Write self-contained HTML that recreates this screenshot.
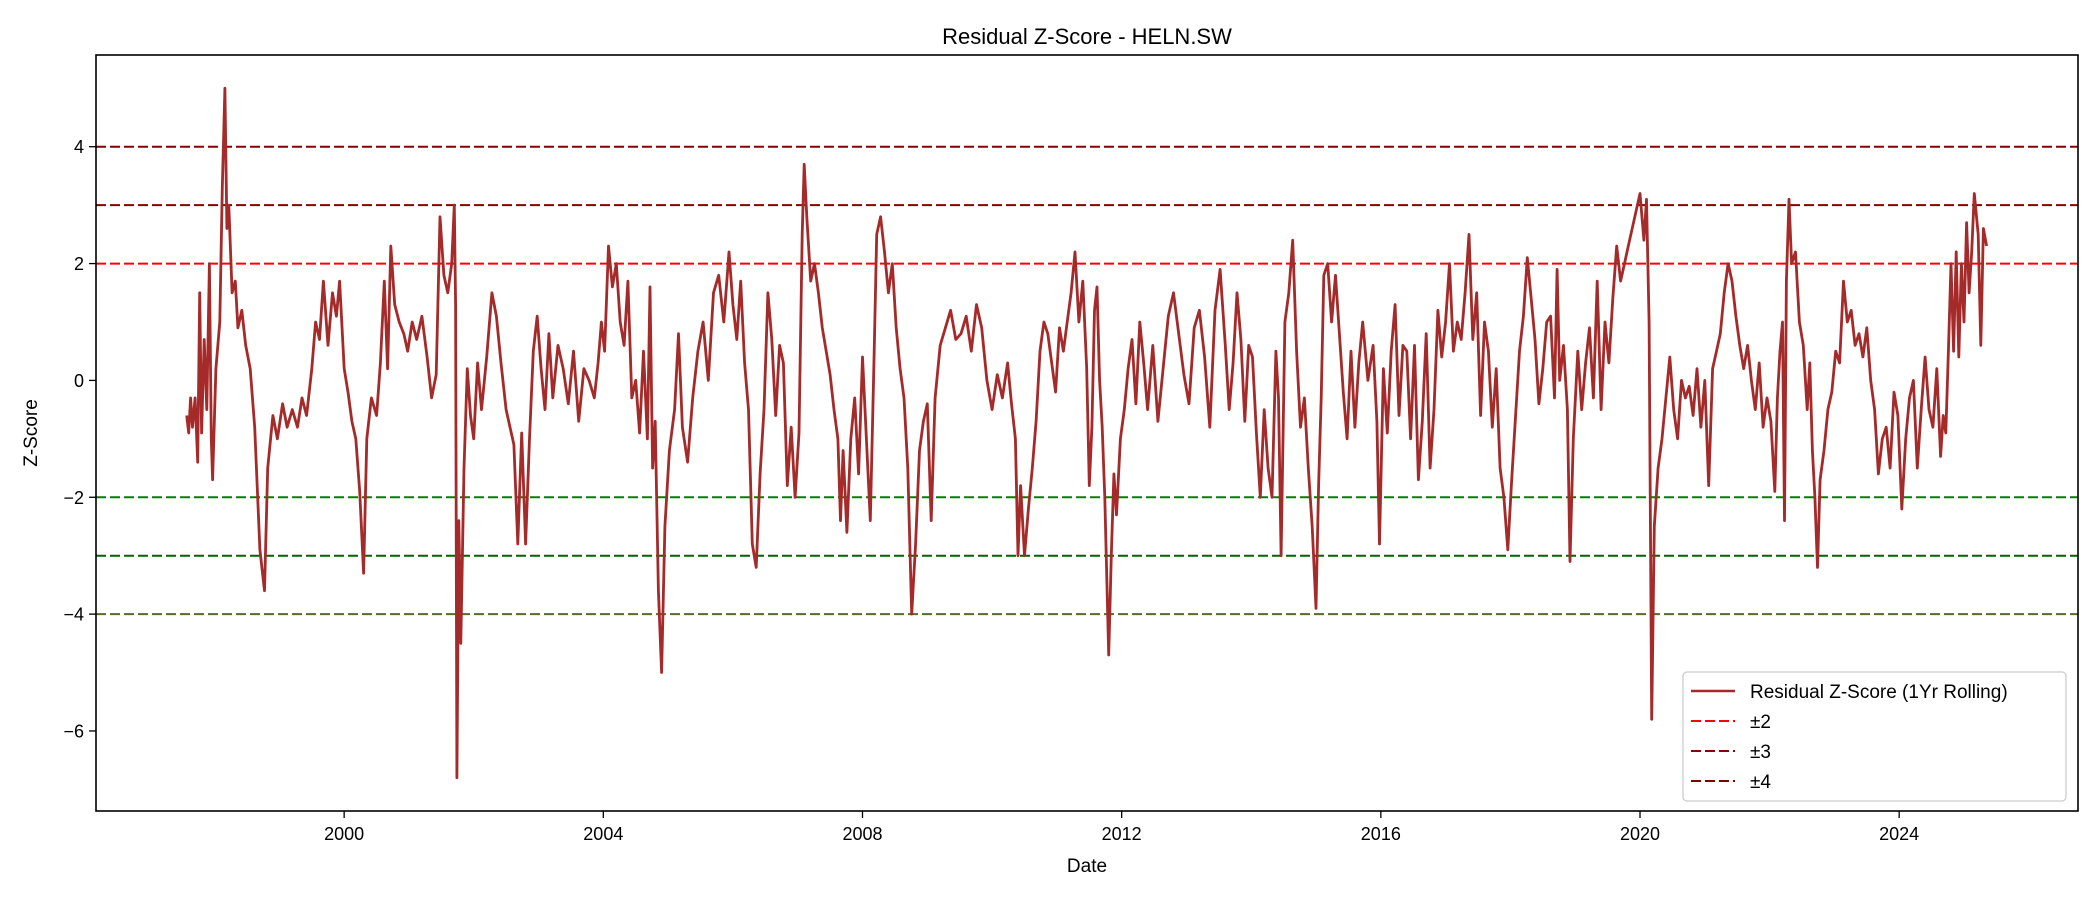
<!DOCTYPE html>
<html><head><meta charset="utf-8"><style>
html,body{margin:0;padding:0;background:#fff;}
svg{display:block;font-family:"Liberation Sans","DejaVu Sans",sans-serif;}
</style></head><body>
<svg id="chart" width="2100" height="900" viewBox="0 0 2100 900" xmlns="http://www.w3.org/2000/svg">
<rect x="0" y="0" width="2100" height="900" fill="#fff"/>
<text x="1087" y="44" font-size="22" text-anchor="middle" fill="#000">Residual Z-Score - HELN.SW</text>
<text x="1087" y="872" font-size="19" text-anchor="middle" fill="#000">Date</text>
<text x="0" y="0" font-size="19" text-anchor="middle" fill="#000" transform="translate(37,433) rotate(-90)">Z-Score</text>
<g id="thresholds"></g>
<g id="series"></g>
<g id="xticks"></g>
<g id="yticks"></g>
<rect x="96" y="55" width="1982" height="756" fill="none" stroke="#000" stroke-width="1.6"/>
<g>
<rect x="1683" y="672" width="383" height="129" rx="4" fill="#fff" fill-opacity="0.8" stroke="#ccc" stroke-width="1.3"/>
<line x1="1691" y1="691" x2="1735" y2="691" stroke="#A52A2A" stroke-width="2.5"/>
<text x="1750" y="698" font-size="19">Residual Z-Score (1Yr Rolling)</text>
<line x1="1691" y1="721" x2="1735" y2="721" stroke="#ff0000" stroke-width="2" stroke-dasharray="10,4"/>
<text x="1750" y="728" font-size="19">±2</text>
<line x1="1691" y1="751" x2="1735" y2="751" stroke="#8B0000" stroke-width="2" stroke-dasharray="10,4"/>
<text x="1750" y="758" font-size="19">±3</text>
<line x1="1691" y1="781" x2="1735" y2="781" stroke="#800000" stroke-width="2" stroke-dasharray="10,4"/>
<text x="1750" y="788" font-size="19">±4</text>
</g>
</svg>
<script>
const dates = [1997.57,1997.60,1997.63,1997.66,1997.70,1997.74,1997.77,1997.80,1997.84,1997.88,1997.92,1997.95,1997.97,1998.02,1998.08,1998.12,1998.16,1998.19,1998.22,1998.27,1998.32,1998.36,1998.42,1998.48,1998.55,1998.62,1998.70,1998.77,1998.82,1998.90,1998.97,1999.05,1999.12,1999.20,1999.28,1999.35,1999.42,1999.50,1999.56,1999.62,1999.68,1999.75,1999.82,1999.88,1999.93,2000.00,2000.06,2000.12,2000.18,2000.24,2000.30,2000.35,2000.42,2000.50,2000.56,2000.62,2000.67,2000.72,2000.78,2000.85,2000.92,2000.98,2001.05,2001.12,2001.20,2001.28,2001.35,2001.42,2001.48,2001.54,2001.60,2001.66,2001.70,2001.72,2001.74,2001.77,2001.80,2001.85,2001.90,2001.95,2002.00,2002.06,2002.12,2002.20,2002.28,2002.35,2002.42,2002.50,2002.56,2002.62,2002.68,2002.74,2002.80,2002.86,2002.92,2002.98,2003.04,2003.10,2003.16,2003.22,2003.30,2003.38,2003.46,2003.54,2003.62,2003.70,2003.78,2003.86,2003.92,2003.97,2004.02,2004.08,2004.14,2004.20,2004.26,2004.32,2004.38,2004.44,2004.50,2004.56,2004.62,2004.68,2004.72,2004.76,2004.80,2004.85,2004.90,2004.95,2005.02,2005.10,2005.16,2005.22,2005.30,2005.38,2005.46,2005.54,2005.62,2005.70,2005.78,2005.86,2005.94,2006.00,2006.06,2006.12,2006.18,2006.24,2006.30,2006.36,2006.42,2006.48,2006.54,2006.60,2006.66,2006.72,2006.78,2006.84,2006.90,2006.96,2007.02,2007.07,2007.10,2007.14,2007.20,2007.26,2007.32,2007.38,2007.44,2007.50,2007.56,2007.62,2007.66,2007.70,2007.76,2007.82,2007.88,2007.94,2008.00,2008.06,2008.12,2008.18,2008.22,2008.28,2008.34,2008.40,2008.46,2008.52,2008.58,2008.64,2008.70,2008.76,2008.82,2008.88,2008.94,2009.00,2009.06,2009.12,2009.20,2009.28,2009.36,2009.44,2009.52,2009.60,2009.68,2009.76,2009.84,2009.92,2010.00,2010.08,2010.16,2010.24,2010.30,2010.36,2010.40,2010.44,2010.50,2010.56,2010.62,2010.68,2010.74,2010.80,2010.86,2010.92,2010.98,2011.04,2011.10,2011.16,2011.22,2011.28,2011.34,2011.40,2011.46,2011.50,2011.54,2011.58,2011.62,2011.66,2011.70,2011.74,2011.80,2011.84,2011.88,2011.92,2011.98,2012.04,2012.10,2012.16,2012.22,2012.28,2012.34,2012.40,2012.48,2012.56,2012.64,2012.72,2012.80,2012.88,2012.96,2013.04,2013.12,2013.20,2013.28,2013.36,2013.44,2013.52,2013.60,2013.66,2013.72,2013.78,2013.84,2013.90,2013.96,2014.02,2014.08,2014.14,2014.20,2014.26,2014.32,2014.38,2014.42,2014.46,2014.52,2014.58,2014.64,2014.70,2014.76,2014.82,2014.88,2014.94,2015.00,2015.04,2015.08,2015.12,2015.18,2015.24,2015.30,2015.36,2015.42,2015.48,2015.54,2015.60,2015.66,2015.72,2015.80,2015.88,2015.94,2015.98,2016.04,2016.10,2016.16,2016.22,2016.28,2016.34,2016.40,2016.46,2016.52,2016.58,2016.64,2016.70,2016.76,2016.82,2016.88,2016.94,2017.00,2017.06,2017.12,2017.18,2017.24,2017.30,2017.36,2017.42,2017.48,2017.54,2017.60,2017.66,2017.72,2017.78,2017.84,2017.90,2017.96,2018.02,2018.08,2018.14,2018.20,2018.26,2018.32,2018.38,2018.44,2018.50,2018.56,2018.62,2018.68,2018.72,2018.76,2018.82,2018.88,2018.92,2018.97,2019.04,2019.10,2019.16,2019.22,2019.28,2019.34,2019.40,2019.46,2019.52,2019.58,2019.64,2019.70,2019.76,2019.82,2019.88,2019.94,2020.00,2020.06,2020.10,2020.14,2020.18,2020.22,2020.28,2020.34,2020.40,2020.46,2020.52,2020.58,2020.64,2020.70,2020.76,2020.82,2020.88,2020.94,2021.00,2021.06,2021.12,2021.18,2021.24,2021.30,2021.36,2021.42,2021.48,2021.54,2021.60,2021.66,2021.72,2021.78,2021.84,2021.90,2021.96,2022.02,2022.08,2022.12,2022.16,2022.20,2022.23,2022.26,2022.30,2022.34,2022.40,2022.46,2022.52,2022.58,2022.62,2022.66,2022.70,2022.74,2022.78,2022.84,2022.90,2022.96,2023.02,2023.08,2023.14,2023.20,2023.26,2023.32,2023.38,2023.44,2023.50,2023.56,2023.62,2023.68,2023.74,2023.80,2023.86,2023.92,2023.98,2024.04,2024.10,2024.16,2024.22,2024.28,2024.34,2024.40,2024.46,2024.52,2024.58,2024.64,2024.68,2024.72,2024.76,2024.80,2024.84,2024.88,2024.92,2024.96,2025.00,2025.04,2025.08,2025.12,2025.16,2025.22,2025.26,2025.30,2025.35];
const values = [-0.6,-0.9,-0.3,-0.8,-0.3,-1.4,1.5,-0.9,0.7,-0.5,2.0,-1.0,-1.7,0.2,1.0,3.3,5.0,2.6,3.0,1.5,1.7,0.9,1.2,0.6,0.2,-0.8,-2.9,-3.6,-1.5,-0.6,-1.0,-0.4,-0.8,-0.5,-0.8,-0.3,-0.6,0.2,1.0,0.7,1.7,0.6,1.5,1.1,1.7,0.2,-0.2,-0.7,-1.0,-1.9,-3.3,-1.0,-0.3,-0.6,0.3,1.7,0.2,2.3,1.3,1.0,0.8,0.5,1.0,0.7,1.1,0.4,-0.3,0.1,2.8,1.8,1.5,2.0,3.0,1.3,-6.8,-2.4,-4.5,-1.5,0.2,-0.6,-1.0,0.3,-0.5,0.4,1.5,1.1,0.3,-0.5,-0.8,-1.1,-2.8,-0.9,-2.8,-1.0,0.5,1.1,0.2,-0.5,0.8,-0.3,0.6,0.2,-0.4,0.5,-0.7,0.2,0.0,-0.3,0.3,1.0,0.5,2.3,1.6,2.0,1.0,0.6,1.7,-0.3,0.0,-0.9,0.5,-1.0,1.6,-1.5,-0.7,-3.6,-5.0,-2.5,-1.2,-0.5,0.8,-0.8,-1.4,-0.3,0.5,1.0,0.0,1.5,1.8,1.0,2.2,1.3,0.7,1.7,0.3,-0.5,-2.8,-3.2,-1.6,-0.5,1.5,0.7,-0.6,0.6,0.3,-1.8,-0.8,-2.0,-0.9,2.5,3.7,2.8,1.7,2.0,1.5,0.9,0.5,0.1,-0.5,-1.0,-2.4,-1.2,-2.6,-1.0,-0.3,-1.6,0.4,-1.0,-2.4,0.5,2.5,2.8,2.2,1.5,2.0,0.9,0.2,-0.3,-1.5,-4.0,-2.8,-1.2,-0.7,-0.4,-2.4,-0.3,0.6,0.9,1.2,0.7,0.8,1.1,0.5,1.3,0.9,0.0,-0.5,0.1,-0.3,0.3,-0.4,-1.0,-3.0,-1.8,-3.0,-2.2,-1.5,-0.7,0.5,1.0,0.8,0.3,-0.2,0.9,0.5,1.0,1.5,2.2,1.0,1.7,0.2,-1.8,-0.8,1.2,1.6,0.0,-0.8,-2.0,-4.7,-3.0,-1.6,-2.3,-1.0,-0.5,0.2,0.7,-0.4,1.0,0.3,-0.5,0.6,-0.7,0.2,1.1,1.5,0.8,0.1,-0.4,0.9,1.2,0.4,-0.8,1.2,1.9,0.6,-0.5,0.3,1.5,0.7,-0.7,0.6,0.4,-0.9,-2.0,-0.5,-1.5,-2.0,0.5,-0.3,-3.0,1.0,1.5,2.4,0.5,-0.8,-0.3,-1.5,-2.5,-3.9,-1.8,-0.3,1.8,2.0,1.0,1.8,0.8,-0.2,-1.0,0.5,-0.8,0.3,1.0,0.0,0.6,-0.7,-2.8,0.2,-0.9,0.5,1.3,-0.6,0.6,0.5,-1.0,0.6,-1.7,-0.7,0.8,-1.5,-0.5,1.2,0.4,1.0,2.0,0.5,1.0,0.7,1.5,2.5,0.7,1.5,-0.6,1.0,0.5,-0.8,0.2,-1.5,-2.0,-2.9,-1.7,-0.6,0.5,1.1,2.1,1.4,0.7,-0.4,0.2,1.0,1.1,-0.3,1.9,0.0,0.6,-0.5,-3.1,-1.0,0.5,-0.5,0.3,0.9,-0.3,1.7,-0.5,1.0,0.3,1.4,2.3,1.7,2.0,2.3,2.6,2.9,3.2,2.4,3.1,1.0,-5.8,-2.5,-1.5,-1.0,-0.3,0.4,-0.5,-1.0,0.0,-0.3,-0.1,-0.6,0.2,-0.8,0.0,-1.8,0.2,0.5,0.8,1.5,2.0,1.7,1.1,0.6,0.2,0.6,0.0,-0.5,0.3,-0.8,-0.3,-0.7,-1.9,-0.3,0.5,1.0,-2.4,1.7,3.1,2.0,2.2,1.0,0.6,-0.5,0.3,-1.2,-2.0,-3.2,-1.7,-1.2,-0.5,-0.2,0.5,0.3,1.7,1.0,1.2,0.6,0.8,0.4,0.9,0.0,-0.5,-1.6,-1.0,-0.8,-1.5,-0.2,-0.6,-2.2,-1.0,-0.3,0.0,-1.5,-0.5,0.4,-0.5,-0.8,0.2,-1.3,-0.6,-0.9,0.5,2.0,0.5,2.2,0.4,2.0,1.0,2.7,1.5,2.2,3.2,2.5,0.6,2.6,2.3];
const thresholdLevels = [4, 3, 2, -2, -3, -4];
const thresholdColors = ['#800000', '#8B0000', '#ff0000', '#008000', '#006400', '#556B2F'];
const xTickYears = [2000, 2004, 2008, 2012, 2016, 2020, 2024];
const yTickValues = [4, 2, 0, -2, -4, -6];
const yTickLabels = ['4', '2', '0', '\u22122', '\u22124', '\u22126'];

const NS = 'http://www.w3.org/2000/svg';
const L = 96, R = 2078, T = 55, B = 811;
const xMin = 1996.17, xMax = 2026.76, yMin = -7.37, yMax = 5.57;
function xs(v) { return L + (v - xMin) / (xMax - xMin) * (R - L); }
function ys(v) { return B - (v - yMin) / (yMax - yMin) * (B - T); }
function mk(tag, attrs, parent) {
  const e = document.createElementNS(NS, tag);
  for (const k in attrs) e.setAttribute(k, attrs[k]);
  parent.appendChild(e);
  return e;
}

const thG = document.getElementById('thresholds');
thresholdLevels.forEach((lv, i) => {
  const ln = mk('line', {x1: L, x2: R, y1: ys(lv), y2: ys(lv), stroke: thresholdColors[i], 'stroke-width': 2, 'stroke-dasharray': '10,4'}, thG);
  
  
});

const sG = document.getElementById('series');
let d = '';
for (let i = 0; i < values.length; i++) d += (i ? 'L' : 'M') + xs(dates[i]).toFixed(1) + ',' + ys(values[i]).toFixed(1);
const path = mk('path', {d: d, fill: 'none', stroke: '#A52A2A', 'stroke-width': 2.8, 'stroke-linejoin': 'round'}, sG);



const xG = document.getElementById('xticks');
xTickYears.forEach(yr => {
  const x = xs(yr);
  const t = mk('line', {x1: x, x2: x, y1: B, y2: B + 7, stroke: '#000', 'stroke-width': 1.3}, xG);
  
  
  const tx = mk('text', {x: x, y: B + 29, 'font-size': 18, 'text-anchor': 'middle'}, xG);
  tx.textContent = String(yr);
  
  
});

const yG = document.getElementById('yticks');
yTickValues.forEach((v, i) => {
  const y = ys(v);
  const t = mk('line', {x1: L - 7, x2: L, y1: y, y2: y, stroke: '#000', 'stroke-width': 1.3}, yG);
  
  
  const tx = mk('text', {x: L - 12, y: y + 6.5, 'font-size': 18, 'text-anchor': 'end'}, yG);
  tx.textContent = yTickLabels[i];
  
  
});
</script>
</body></html>
